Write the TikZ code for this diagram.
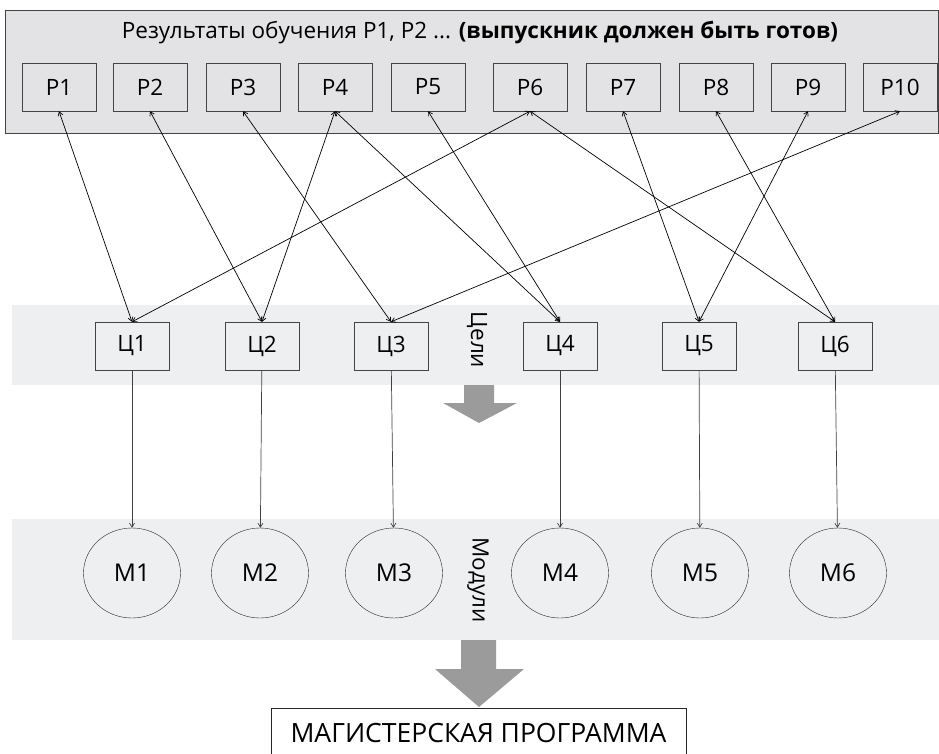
\documentclass[tikz,border=0pt]{standalone}
\usepackage{fontspec}
\setmainfont{Open Sans}
\usetikzlibrary{shapes.geometric,arrows.meta}
\definecolor{panelgray}{HTML}{E3E3E5}
\definecolor{bandgray}{HTML}{EEEFF1}
\definecolor{arrowgray}{HTML}{9B9B9B}
\definecolor{framegray}{HTML}{444444}
\begin{document}
\begin{tikzpicture}[x=1pt,y=-1pt,
    font=\fontsize{22.5}{26}\selectfont,
    >={Straight Barb[length=4pt,width=5pt]},
    pbox/.style={draw=framegray,fill=panelgray,minimum width=74pt,minimum height=48pt,inner sep=0pt},
    cbox/.style={draw=framegray,fill=bandgray,minimum width=74pt,minimum height=48pt,inner sep=0pt},
    mnode/.style={ellipse,draw=black!85,fill=bandgray,minimum width=97pt,minimum height=90pt,inner sep=0pt,
      font=\fontsize{24.5}{28}\selectfont},
    link/.style={<->,line width=0.7pt},
    feed/.style={->,draw=black!75,line width=0.7pt}]
  \useasboundingbox (0,0) rectangle (939,754);
  % bands and panel
  \fill[bandgray] (12,305) rectangle (939,385);
  \fill[bandgray] (12,519) rectangle (939,640);
  \draw[framegray,fill=panelgray,line width=0.9pt] (5,10) rectangle (938,133);
  % block arrows
  \fill[arrowgray] (464,385) -- (494,385) -- (494,403) -- (517,403) -- (479,423)
    -- (443,403) -- (464,403) -- cycle;
  \fill[arrowgray] (461,640) -- (496,640) -- (496,669) -- (524,669) -- (479,707)
    -- (435,669) -- (461,669) -- cycle;
  \draw
    (480,33) node (title){Результаты обучения Р1, Р2 ... \textbf{(выпускник должен быть готов)}}
    (59,87) node[pbox] (p1){Р1}
    (150,87) node[pbox] (p2){Р2}
    (243,87) node[pbox] (p3){Р3}
    (335,87) node[pbox] (p4){Р4}
    (428,87) node[pbox] (p5){Р5}
    (530,87) node[pbox] (p6){Р6}
    (623,87) node[pbox] (p7){Р7}
    (716,87) node[pbox] (p8){Р8}
    (808,87) node[pbox] (p9){Р9}
    (900,87) node[pbox] (p10){Р10}
    (132,346) node[cbox] (c1){Ц1}
    (262,346) node[cbox] (c2){Ц2}
    (391,346) node[cbox] (c3){Ц3}
    (560,346) node[cbox] (c4){Ц4}
    (699,346) node[cbox] (c5){Ц5}
    (835,346) node[cbox] (c6){Ц6}
    (132,573) node[mnode] (m1){М1}
    (260,573) node[mnode] (m2){М2}
    (394,573) node[mnode] (m3){М3}
    (560,573) node[mnode] (m4){М4}
    (700,573) node[mnode] (m5){М5}
    (838,573) node[mnode] (m6){М6}
    (477,340) node[rotate=-90] (goals){Цели}
    (478,580) node[rotate=-90] (mods){Модули}
    (478.5,733) node[draw=black!85,fill=white,minimum width=415pt,minimum height=50pt,
      font=\fontsize{26.5}{30}\selectfont] (prog){МАГИСТЕРСКАЯ ПРОГРАММА};
  \begin{scope}[link]
    \draw (p1.south) to (c1.north);
    \draw (p2.south) to (c2.north);
    \draw (p3.south) to (c3.north);
    \draw (p4.south) to (c2.north);
    \draw (p4.south) to (c4.north);
    \draw (p5.south) to (c4.north);
    \draw (p6.south) to (c1.north);
    \draw (p6.south) to (c6.north);
    \draw (p7.south) to (c5.north);
    \draw (p8.south) to (c6.north);
    \draw (p9.south) to (c5.north);
    \draw (p10.south) to (c3.north);
  \end{scope}
  \begin{scope}[feed]
    \draw (c1) to (m1);
    \draw (c2) to (m2);
    \draw (c3) to (m3);
    \draw (c4) to (m4);
    \draw (c5) to (m5);
    \draw (c6) to (m6);
  \end{scope}
\end{tikzpicture}
\end{document}
